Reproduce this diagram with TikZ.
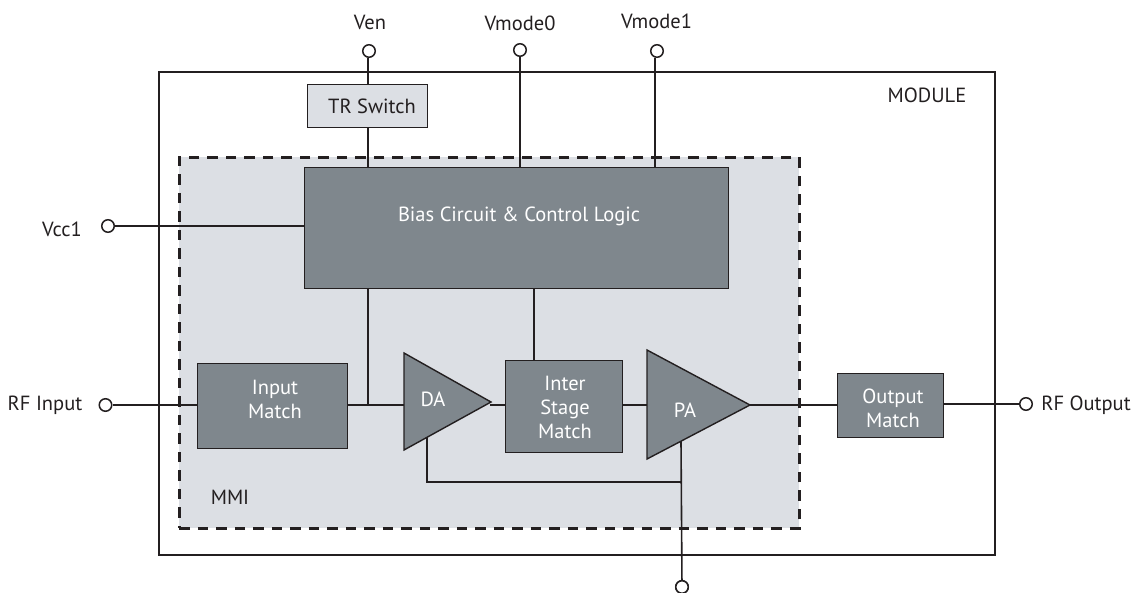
\documentclass[tikz,border=0pt]{standalone}
\usepackage{fontspec}
\setmainfont{PT Sans}
\definecolor{dk}{HTML}{7F878D}
\definecolor{lt}{HTML}{DCDFE4}
\definecolor{ln}{HTML}{231F20}
\tikzset{x=1pt,y=-1pt,
 blockbox/.style={draw=ln,fill=dk,line width=1.4pt,inner sep=0pt},
 wire/.style={draw=ln,line width=1.6pt},
 thick wire/.style={draw=ln,line width=2pt},
 term/.style={circle,draw=ln,fill=white,line width=1.5pt,minimum size=12.5pt,inner sep=0pt},
 lab/.style={text=ln,font=\fontsize{20.5}{24}\selectfont,inner sep=0pt,align=center},
 wlab/.style={lab,text=white}}
\begin{document}
\begin{tikzpicture}
\useasboundingbox (0,0) rectangle (1133,592);
\node[draw=ln,line width=2.2pt,minimum width=836pt,minimum height=483pt,inner sep=0pt,anchor=north west] (module) at (157.5,71) {};
\node[draw=ln,fill=lt,dash pattern=on 10.5pt off 8pt,line width=2.9pt,minimum width=620pt,minimum height=371pt,inner sep=0pt,anchor=north west] (mmi) at (178,156) {};
\node[blockbox,minimum width=424pt,minimum height=121pt,anchor=north west] (bias) at (304,167) {};
\node[blockbox,fill=lt,minimum width=120pt,minimum height=43pt,anchor=north west] (tr) at (307,84) {};
\node[blockbox,minimum width=150pt,minimum height=85pt,anchor=north west] (input) at (197,363) {};
\node[blockbox,minimum width=117pt,minimum height=92pt,anchor=north west] (inter) at (505,360) {};
\node[blockbox,minimum width=106pt,minimum height=64pt,anchor=north west] (output) at (837,373) {};
\coordinate (da1) at (404,353); \coordinate (da2) at (404,450); \coordinate (da3) at (491,402);
\coordinate (pa1) at (647,350); \coordinate (pa2) at (647,459); \coordinate (pa3) at (750,405);
\node[term] (nVen) at (369,51) {};
\node[term] (nm0) at (520,50) {};
\node[term] (nm1) at (657,51) {};
\node[term] (nvcc) at (108,226) {};
\node[term] (nin) at (105.5,405) {};
\node[term] (nout) at (1026,404) {};
\node[term] (nb) at (682,587) {};
\coordinate (vm1) at (655,167);
\coordinate (ven1) at (368,58);
\draw[wire] (ven1) -- (ven1 |- tr.north);
\draw[wire] (ven1 |- tr.south) -- (ven1 |- bias.north);
\draw[wire] (nm0) -- (bias.north -| nm0);
\draw[wire] (nm1.south -| vm1) -- (vm1);
\draw[thick wire] (nvcc) -- (bias.west |- nvcc);
\draw[wire] (nin) -- (input.west |- nin);
\draw[wire] (input.east |- nin) -- (404,405);
\coordinate (j) at (368,405);
\draw[wire] (bias.south -| j) -- (j);
\coordinate (k) at (534,360);
\draw[wire] (bias.south -| k) -- (k);
\draw[wire] (490,405) -- (inter.west |- nin);
\draw[wire] (inter.east |- nin) -- (pa1 |- nin);
\draw[wire] (pa3) -- (output.west |- pa3);
\draw[wire] (output.east |- nout) -- (nout);
\draw[blockbox] (da1) -- (da2) -- (da3) -- cycle;
\draw[blockbox] (pa1) -- (pa2) -- (pa3) -- cycle;
\coordinate (m) at (681,441);
\draw[wire] (m) -- (nb);
\coordinate (d) at (427,437);
\draw[thick wire] (d) -- (427,482) -- (681,482);
\node[term] at (nb) {};
\node[wlab] (tbias) at (519,216) {Bias Circuit \& Control Logic};
\node[lab] (ttr) at (372,106) {TR Switch};
\node[wlab] (tinput) at (275,399) {Input\\Match};
\node[wlab] (tinter) at (565,407) {Inter\\Stage\\Match};
\node[wlab] (toutput) at (893,408) {Output\\Match};
\node[wlab] (tda) at (433,399) {DA};
\node[wlab] (tpa) at (685,410) {PA};
\node[lab] (a) at (370,22) {Ven};
\node[lab] (b) at (520,23) {Vmode0};
\node[lab] (c) at (656.5,21) {Vmode1};
\node[lab] (d2) at (62,229) {Vcc1};
\node[lab] (e) at (45,405) {RF Input};
\node[lab] (f) at (1086,405) {RF Output};
\node[lab] (g) at (927,95) {MODULE};
\node[lab] (h) at (230,497) {MMI};
\end{tikzpicture}
\end{document}
